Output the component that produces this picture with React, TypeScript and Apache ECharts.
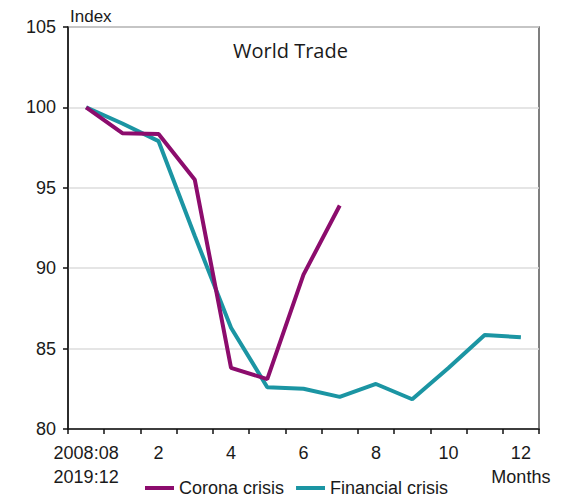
import React, { useEffect, useRef } from "react";
import * as echarts from "echarts";

const months = ["0", "1", "2", "3", "4", "5", "6", "7", "8", "9", "10", "11", "12"];
const coronaCrisis = [100, 98.4, 98.35, 95.5, 83.8, 83.1, 89.6, 93.9];
const financialCrisis = [100, 99.0, 97.9, 92.0, 86.3, 82.6, 82.5, 82.0, 82.8, 81.85, 83.8, 85.85, 85.7];
const yTicks = { min: 80, max: 105, interval: 5 };
const firstLabel = "2008:08\n2019:12";
const lastLabel = "12\nMonths";

export default function App() {
  const ref = useRef<HTMLDivElement>(null);
  useEffect(() => {
    if (!ref.current) return;
    const chart = echarts.init(ref.current, undefined, { renderer: "svg" });
    const font = "'Liberation Sans', Arial, sans-serif";
    chart.setOption({
      animation: false,
      backgroundColor: "#ffffff",
      title: {
        text: "World Trade",
        left: 228,
        top: 35,
        textStyle: { fontSize: 20, fontWeight: "normal", fontFamily: "'Open Sans', sans-serif", color: "#1a1a1a" },
      },
      graphic: [
        {
          type: "text",
          x: 70,
          y: 8,
          style: { text: "Index", fontSize: 17, fontFamily: font, fill: "#1a1a1a" },
        },
      ],
      legend: {
        data: ["Corona crisis", "Financial crisis"],
        left: 140,
        top: 474,
        icon: "rect",
        itemWidth: 29,
        itemHeight: 4,
        itemGap: 12,
        textStyle: { fontSize: 18, fontFamily: font, color: "#1a1a1a" },
      },
      grid: {
        left: 68,
        right: 22,
        top: 27,
        bottom: 69,
        show: true,
        borderColor: "#555",
        borderWidth: 1.5,
      },
      xAxis: {
        type: "category",
        data: months,
        boundaryGap: true,
        axisLine: { lineStyle: { color: "#111", width: 1.5 } },
        axisTick: { show: true, interval: 0, length: 5, lineStyle: { color: "#111", width: 1.5 } },
        axisLabel: {
          interval: 1,
          margin: 12,
          fontSize: 18,
          lineHeight: 24,
          fontFamily: font,
          color: "#1a1a1a",
          formatter: (v: string) => (v === "0" ? firstLabel : v === "12" ? lastLabel : v),
        },
        splitLine: { show: false },
      },
      yAxis: {
        type: "value",
        min: yTicks.min,
        max: yTicks.max,
        interval: yTicks.interval,
        axisLine: { show: true, lineStyle: { color: "#111", width: 1.5 } },
        axisTick: { show: true, length: 5, lineStyle: { color: "#111", width: 1.5 } },
        axisLabel: { margin: 12, fontSize: 18, fontFamily: font, color: "#1a1a1a" },
        splitLine: { show: true, lineStyle: { color: "#dcdcdc", width: 1.5 } },
      },
      series: [
        {
          name: "Financial crisis",
          type: "line",
          data: financialCrisis,
          symbol: "none",
          lineStyle: { color: "#1b95a3", width: 4 },
          itemStyle: { color: "#1b95a3" },
          z: 2,
        },
        {
          name: "Corona crisis",
          type: "line",
          data: coronaCrisis,
          symbol: "none",
          lineStyle: { color: "#8c0c6d", width: 4 },
          itemStyle: { color: "#8c0c6d" },
          z: 3,
        },
      ],
    });
    return () => chart.dispose();
  }, []);
  return <div ref={ref} style={{ position: "fixed", left: 0, top: 0, width: 561, height: 498 }} />;
}
